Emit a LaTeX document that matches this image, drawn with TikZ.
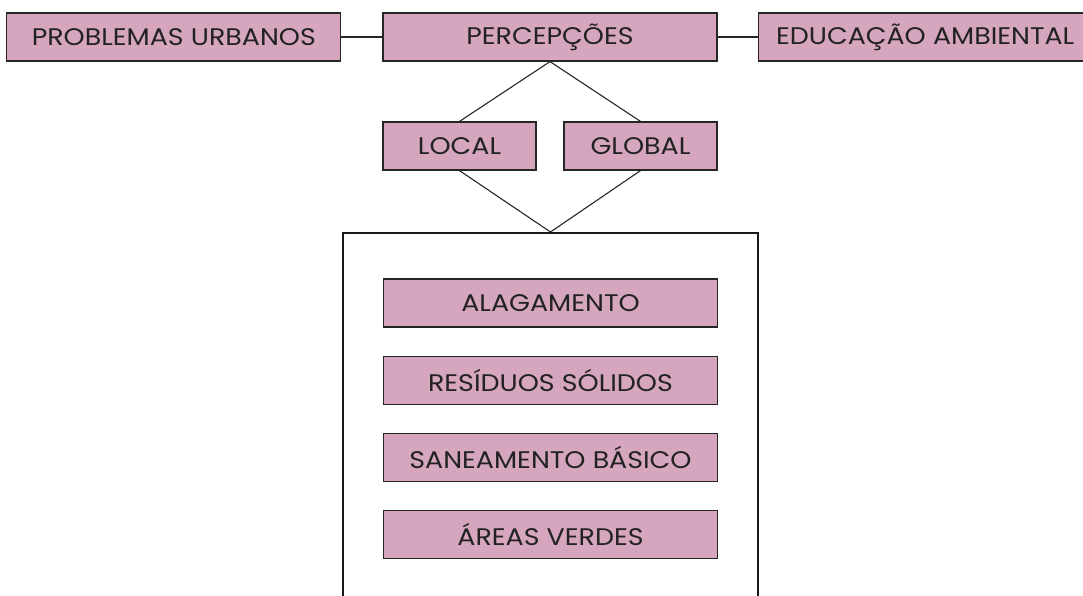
\documentclass[tikz,border=0pt]{standalone}
\usepackage{fontspec}
\setmainfont{Poppins}[FakeStretch=1.12]
\usepackage{tikz}
\usetikzlibrary{positioning}
\definecolor{mauve}{HTML}{D5A6BD}
\definecolor{texte}{HTML}{222222}
\tikzset{
  cat/.style={rectangle, draw=black!85, fill=mauve, line width=1.2pt, text=texte, text centered, minimum width=334pt, minimum height=48pt, inner sep=0pt, font=\fontsize{24}{28}\selectfont},
  small/.style={cat, minimum width=153pt},
  frame/.style={rectangle, draw=black!90, line width=2pt, minimum width=415pt, minimum height=420pt},
  line/.style={draw, line width=1.1pt, black!85},
}
\begin{document}
\begin{tikzpicture}[x=1pt,y=1pt]
    \useasboundingbox (0,0) rectangle (1083,-596);

    \node[cat] (perc) at (550,-37) {PERCEPÇÕES};
    \node[cat, left=41pt of perc] (prob) {PROBLEMAS URBANOS};
    \node[cat, right=40pt of perc] (educ) {EDUCAÇÃO AMBIENTAL};

    \node[small] (local) at (459.5,-146) {LOCAL};
    \node[small] (global) at (640.5,-146) {GLOBAL};

    \node[frame, anchor=north] (env) at (550.5,-232) {};

    \node[cat] (alag) at (550.5,-303) {ALAGAMENTO};
    \node[cat, below=28pt of alag] (resi) {RESÍDUOS SÓLIDOS};
    \node[cat, below=28pt of resi] (sane) {SANEAMENTO BÁSICO};
    \node[cat, below=28pt of sane] (verd) {ÁREAS VERDES};

    \begin{scope} [every path/.style=line]
      \path (prob) -- (perc);
      \path (perc) -- (educ);

      \path (perc.south) -- (local.north);
      \path (perc.south) -- (global.north);
      \path (local.south) -- (env.north);
      \path (global.south) -- (env.north);
    \end{scope}
\end{tikzpicture}
\end{document}
